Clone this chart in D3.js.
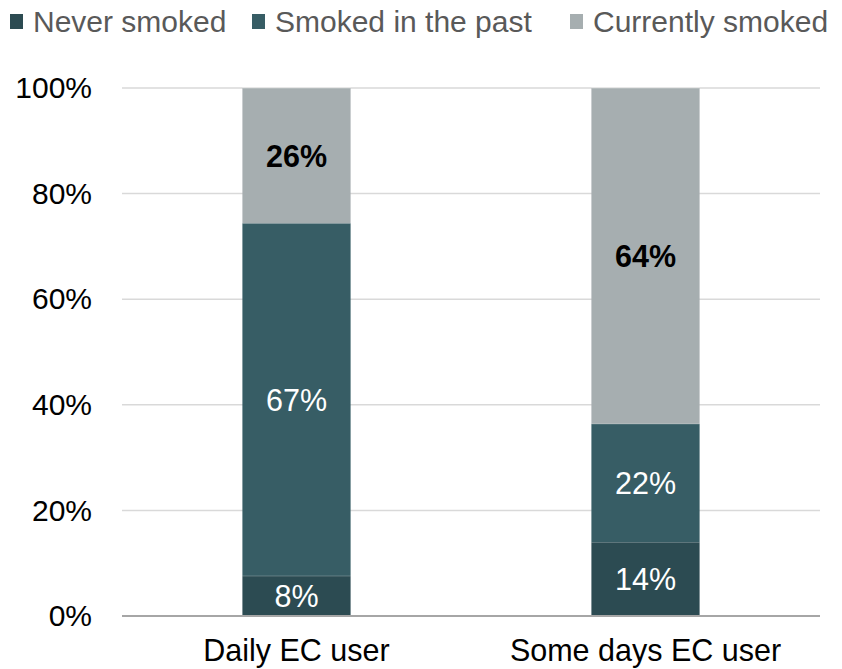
<!DOCTYPE html>
<html>
<head>
<meta charset="utf-8">
<script src="https://cdnjs.cloudflare.com/ajax/libs/d3/7.8.5/d3.min.js"></script>
<style>
  body { margin: 0; background: #fff; }
  svg { display: block; font-family: "Liberation Sans", Arial, sans-serif; }
</style>
</head>
<body>
<div class="chart"></div>
<script>
// data
var categories = ["Daily EC user", "Some days EC user"];
var seriesNames = ["Never smoked", "Smoked in the past", "Currently smoked"];
var neverSmoked = [7.6, 14.0];
var smokedPast = [66.8, 22.4];
var currentlySmoke = [25.6, 63.6];
var yTicks = [0, 20, 40, 60, 80, 100];

var colors = ["#2c4b52", "#375d65", "#a6aeb0"];
var labelColors = ["#ffffff", "#ffffff", "#000000"];
var labelWeights = ["normal", "normal", "bold"];

var svgWidth = 842, svgHeight = 669;
var margin = { top: 88, right: 22, bottom: 53, left: 122 };
var width = svgWidth - margin.left - margin.right;
var height = svgHeight - margin.top - margin.bottom;

var svg = d3.select(".chart").append("svg")
  .attr("width", svgWidth)
  .attr("height", svgHeight);

var chartGroup = svg.append("g")
  .attr("transform", `translate(${margin.left}, ${margin.top})`);

// build table for stacking
var table = categories.map(function(c, i) {
  return { cat: c, s0: neverSmoked[i], s1: smokedPast[i], s2: currentlySmoke[i] };
});
var stacked = d3.stack().keys(["s0", "s1", "s2"])(table);

var x = d3.scaleBand()
  .domain(categories)
  .range([0, width])
  .paddingInner(0.69)
  .paddingOuter(0.345);

var y = d3.scaleLinear()
  .domain([0, 100])
  .range([height, 0]);

// gridlines
chartGroup.append("g")
  .selectAll("line")
  .data(yTicks.filter(d => d > 0))
  .enter().append("line")
  .attr("x1", 0).attr("x2", width)
  .attr("y1", d => y(d)).attr("y2", d => y(d))
  .attr("stroke", "#d9d9d9")
  .attr("stroke-width", 1.5);

// y axis labels
var yAxis = d3.axisLeft(y).tickValues(yTicks).tickFormat(d => d + "%").tickSize(0).tickPadding(30);
var yg = chartGroup.append("g").call(yAxis);
yg.select(".domain").remove();
yg.selectAll("text")
  .attr("font-size", 30)
  .attr("font-family", "Liberation Sans, Arial, sans-serif")
  .attr("fill", "#000");

// bars
var layers = chartGroup.selectAll(".layer")
  .data(stacked)
  .enter().append("g")
  .attr("class", "layer")
  .attr("fill", (d, i) => colors[i]);

layers.selectAll("rect")
  .data(d => d)
  .enter().append("rect")
  .attr("x", d => x(d.data.cat))
  .attr("y", d => y(d[1]))
  .attr("width", x.bandwidth())
  .attr("height", d => y(d[0]) - y(d[1]));

// thin separator lines between segments
layers.selectAll("line")
  .data(d => d)
  .enter().append("line")
  .attr("x1", d => x(d.data.cat))
  .attr("x2", d => x(d.data.cat) + x.bandwidth())
  .attr("y1", d => y(d[1]))
  .attr("y2", d => y(d[1]))
  .attr("stroke", "#ffffff")
  .attr("stroke-opacity", 0.35)
  .attr("stroke-width", 1);

// value labels
stacked.forEach(function(layer, i) {
  chartGroup.append("g").selectAll("text")
    .data(layer)
    .enter().append("text")
    .attr("x", d => x(d.data.cat) + x.bandwidth() / 2)
    .attr("y", d => (y(d[0]) + y(d[1])) / 2)
    .attr("dy", "0.36em")
    .attr("text-anchor", "middle")
    .attr("font-size", 30.5)
    .attr("font-weight", labelWeights[i])
    .attr("fill", labelColors[i])
    .text(d => Math.round(d[1] - d[0]) + "%");
});

// x axis line
chartGroup.append("line")
  .attr("x1", 0).attr("x2", width)
  .attr("y1", height).attr("y2", height)
  .attr("stroke", "#a6a6a6")
  .attr("stroke-width", 2);

// category labels
chartGroup.append("g").selectAll("text")
  .data(categories)
  .enter().append("text")
  .attr("x", d => x(d) + x.bandwidth() / 2)
  .attr("y", height + 45)
  .attr("text-anchor", "middle")
  .attr("font-size", 30.5)
  .attr("fill", "#000")
  .text(d => d);

// legend (shifted a little left so the last entry fits)
var legendX = [10, 252, 570];
var legend = svg.append("g").selectAll("g")
  .data(seriesNames)
  .enter().append("g")
  .attr("transform", (d, i) => `translate(${legendX[i]}, 0)`);

legend.append("rect")
  .attr("x", 0).attr("y", 14)
  .attr("width", 13).attr("height", 15)
  .attr("fill", (d, i) => colors[i]);

legend.append("text")
  .attr("x", 23)
  .attr("y", 32)
  .attr("font-size", 30)
  .attr("fill", "#595959")
  .text(d => d);
</script>
</body>
</html>
